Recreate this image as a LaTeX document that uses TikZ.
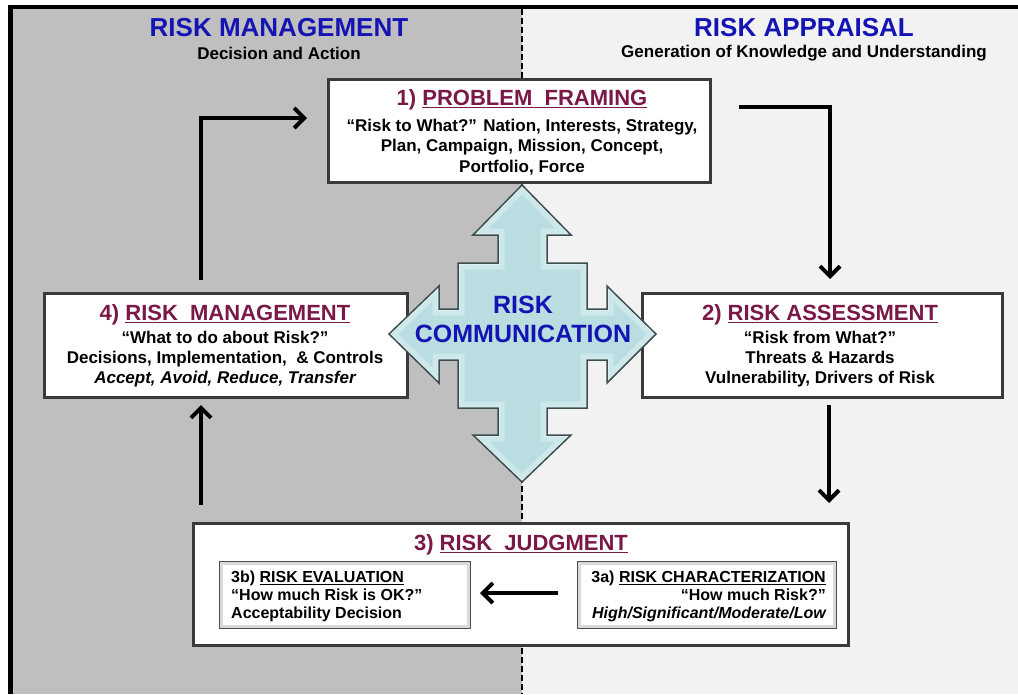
\documentclass[tikz,border=0pt]{standalone}
\usepackage{fontspec}
\setmainfont{Liberation Sans}
\usetikzlibrary{arrows.meta,calc}
\definecolor{mgray}{HTML}{BFBFBF}
\definecolor{lgray}{HTML}{F2F2F2}
\definecolor{hblue}{HTML}{1414B4}
\definecolor{maroon}{HTML}{7A1848}
\definecolor{cyanfill}{HTML}{B9DDE0}
\definecolor{cyanlight}{HTML}{CDE8EA}
\definecolor{cyanline}{HTML}{3E4E50}
\definecolor{boxline}{HTML}{3A3A3A}
\newcommand\myul[1]{\setbox0\hbox{#1}\rlap{\rule[-2.8pt]{\wd0}{1.4pt}}\box0}
\def\crosspath{(522,185) -- (571,235) -- (547,235) -- (547,263) -- (587,263) -- (587,309) -- (607,309) -- (607,286) -- (656,334) -- (607,383) -- (607,360) -- (587,360) -- (587,408) -- (547,408) -- (547,435) -- (571,435) -- (522,482) -- (473,435) -- (498,435) -- (498,408) -- (458,408) -- (458,360) -- (439,360) -- (439,383) -- (389,334) -- (439,286) -- (439,309) -- (458,309) -- (458,263) -- (498,263) -- (498,235) -- (473,235) -- cycle}
\begin{document}
\begin{tikzpicture}[x=1pt,y=-1pt,
  box/.style={draw=boxline, line width=3pt, fill=white, rectangle, inner sep=0pt},
  subbox/.style={draw=boxline!90, line width=2pt, fill=white, rectangle, inner sep=0pt},
  head/.style={text=hblue, font=\fontsize{26}{29}\selectfont\bfseries, inner sep=0pt},
  subhead/.style={text=black, font=\fontsize{17}{20}\selectfont\bfseries, inner sep=0pt},
  title/.style={text=maroon, font=\fontsize{22}{25}\selectfont\bfseries, inner sep=0pt},
  body/.style={text=black, align=center, font=\fontsize{17}{20.3}\selectfont\bfseries, inner sep=0pt},
  subtext/.style={text=black, font=\fontsize{16}{18}\selectfont\bfseries, inner sep=0pt},
  comm/.style={text=hblue, font=\fontsize{25}{28}\selectfont\bfseries, inner sep=0pt},
  flow/.style={line width=4pt, line join=miter, -{Straight Barb[length=10pt,width=20pt]}}
]
\useasboundingbox (0,0) rectangle (1018,694);
% background
\fill[white] (0,0) rectangle (1018,694);
\fill[mgray] (13,9) rectangle (522,694);
\fill[lgray] (522,9) rectangle (1018,694);
\fill[black] (8,5) rectangle (1018,9);
\fill[black] (8,5) rectangle (13,694);
\draw[black, line width=1.2pt, dash pattern=on 6pt off 3pt] (522,9) -- (522,694);
% headings
\node[head] (hl) at (279,28) {RISK MANAGEMENT};
\node[subhead] (hls) at (279,53) {Decision and Action};
\node[head] (hr) at (804,28) {RISK APPRAISAL};
\node[subhead] (hrs) at (804,53) {Generation of Knowledge and Understanding};
% box 1
\node[box, minimum width=382pt, minimum height=103pt] (b1) at (519,130.5) {};
\node[title] (t1) at (522,100) {1) \myul{PROBLEM\ \ FRAMING}};
\node[body] (x1) at (522,147) {“Risk to What?” Nation, Interests,\ Strategy,\\Plan, Campaign, Mission, Concept,\\Portfolio, Force};
% box 4
\node[box, minimum width=363pt, minimum height=104pt] (b4) at (225.5,345) {};
\node[title] (t4) at (225,315) {4) \myul{RISK\ \ MANAGEMENT}};
\node[body] (x4) at (225,359) {“What to do about Risk?”\\Decisions, Implementation,\ \ \& Controls\\\itshape Accept,\ Avoid, Reduce, Transfer};
% box 2
\node[box, minimum width=360pt, minimum height=104pt] (b2) at (822,345) {};
\node[title] (t2) at (820,315) {2) \myul{RISK ASSESSMENT}};
\node[body] (x2) at (820,359) {“Risk from What?”\\Threats \& Hazards\\Vulnerability, Drivers of Risk};
% box 3
\node[box, minimum width=655pt, minimum height=122pt] (b3) at (520.5,584) {};
\node[title] (t3) at (521,545) {3) \myul{RISK\ \ JUDGMENT}};
\node[subbox, minimum width=250pt, minimum height=66pt] (b3b) at (345,595) {};
\node[subbox, minimum width=258pt, minimum height=66pt] (b3a) at (707,595) {};
\draw[gray!30, line width=2.5pt] ($(b3b.north west)+(2.5,2.5)$) rectangle ($(b3b.south east)+(-2.5,-2.5)$);
\draw[gray!30, line width=2.5pt] ($(b3a.north west)+(2.5,2.5)$) rectangle ($(b3a.south east)+(-2.5,-2.5)$);
\node[subtext, align=left, anchor=west] (x3b) at (231,596) {3b) \myul{RISK EVALUATION}\\“How much Risk is OK?”\\Acceptability Decision};
\node[subtext, align=right, anchor=east] (x3a) at (826,596) {3a) \myul{RISK CHARACTERIZATION}\\“How much Risk?”\\\itshape High/Significant/Moderate/Low};
% connectors
\coordinate (c1a) at (201,280);
\coordinate (c1b) at (307,118);
\draw[flow] (c1a) |- (c1b);
\coordinate (c2a) at (739,107);
\coordinate (c2b) at (830,279);
\draw[flow] (c2a) -| (c2b);
\coordinate (c3a) at (829,405);
\coordinate (c3b) at (829,503);
\draw[flow] (c3a) -- (c3b);
\coordinate (c4a) at (201,505);
\coordinate (c4b) at (201,405);
\draw[flow] (c4a) -- (c4b);
\coordinate (c5a) at (558,593);
\coordinate (c5b) at (480,593);
\draw[flow] (c5a) -- (c5b);
% risk communication cross
\begin{scope}
\clip \crosspath;
\fill[cyanfill] \crosspath;
\draw[cyanlight, line width=13pt, line join=miter] \crosspath;
\draw[white, opacity=0.5, line width=3pt, line join=miter] \crosspath;
\end{scope}
\draw[cyanline, line width=1.5pt, line join=miter] \crosspath;
\node[comm] (rc1) at (523,305) {RISK};
\node[comm] (rc2) at (523,334) {COMMUNICATION};
\end{tikzpicture}
\end{document}
